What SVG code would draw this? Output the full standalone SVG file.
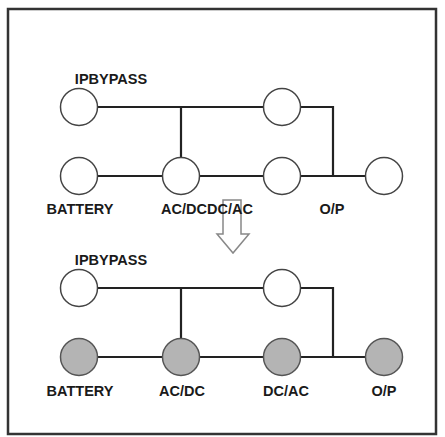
<svg xmlns="http://www.w3.org/2000/svg" width="445" height="437" viewBox="0 0 445 437">
<style>
.n{fill:#fff;stroke:#444;stroke-width:1.5}
.g{fill:#b4b4b4;stroke:#555;stroke-width:1.5}
.c{fill:none;stroke:#222;stroke-width:2.2}
text{font-family:"Liberation Sans",Arial,sans-serif;font-weight:bold;font-size:14.5px;fill:#1a1a1a;text-anchor:middle}
</style>
<rect x="8" y="9" width="428" height="425" fill="#fff" stroke="#333" stroke-width="2.5"/>
<g id="connectors">
<path class="c" d="M97.5,107H263.5M181,107V157.5M300.5,107H333V176M97.5,176H162.5M199.5,176H263.5M300.5,176H365.5"/>
<path class="c" d="M97.5,288H263.5M181,288V338.5M300.5,288H333V357M97.5,357H162.5M199.5,357H263.5M300.5,357H365.5"/>
</g>
<g id="arrow"><path d="M223,200H241V234H249L233,253L217,234H223Z" fill="#fff" stroke="#888" stroke-width="1.5"/></g>
<g id="top-ipbypass"><circle class="n" cx="79" cy="107" r="18.5"/><text x="111" y="84">IPBYPASS</text></g>
<g id="top-bypass-switch"><circle class="n" cx="282" cy="107" r="18.5"/></g>
<g id="top-battery"><circle class="n" cx="79" cy="176" r="18.5"/><text x="80" y="214">BATTERY</text></g>
<g id="top-acdc"><circle class="n" cx="181" cy="176" r="18.5"/><text x="207" y="214">AC/DCDC/AC</text></g>
<g id="top-dcac"><circle class="n" cx="282" cy="176" r="18.5"/></g>
<g id="top-op"><circle class="n" cx="384" cy="176" r="18.5"/><text x="332" y="214">O/P</text></g>
<g id="bot-ipbypass"><circle class="n" cx="79" cy="288" r="18.5"/><text x="111" y="265">IPBYPASS</text></g>
<g id="bot-bypass-switch"><circle class="n" cx="282" cy="288" r="18.5"/></g>
<g id="bot-battery"><circle class="g" cx="79" cy="357" r="18.5"/><text x="80" y="396">BATTERY</text></g>
<g id="bot-acdc"><circle class="g" cx="181" cy="357" r="18.5"/><text x="182" y="396">AC/DC</text></g>
<g id="bot-dcac"><circle class="g" cx="282" cy="357" r="18.5"/><text x="286" y="396">DC/AC</text></g>
<g id="bot-op"><circle class="g" cx="384" cy="357" r="18.5"/><text x="384" y="396">O/P</text></g>
</svg>
